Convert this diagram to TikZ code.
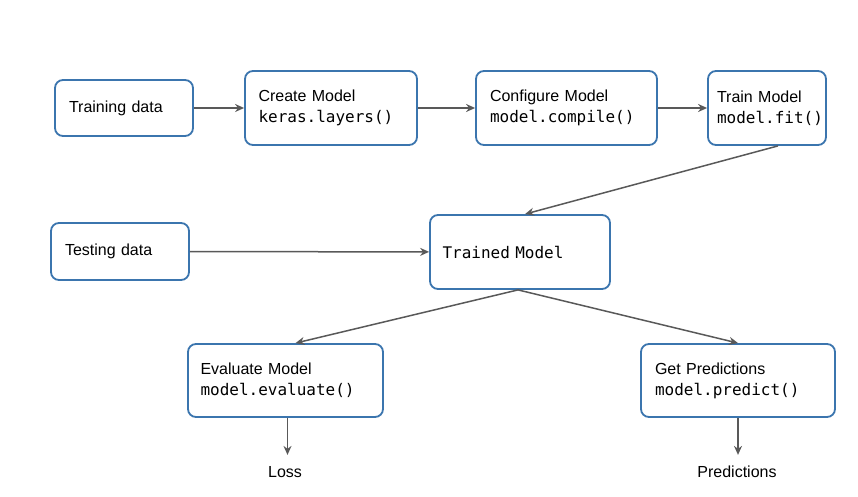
\documentclass[tikz,border=0pt]{standalone}
\usepackage{fontspec}
\setmainfont{Liberation Sans}
\newfontfamily\codefont{DejaVu Sans Mono}
\usetikzlibrary{arrows.meta,positioning}
\definecolor{boxblue}{HTML}{3B75AE}
\definecolor{arrowgray}{HTML}{595959}

\begin{document}
\begin{tikzpicture}[x=1pt,y=-1pt,
    box/.style={draw=boxblue, line width=1.8pt, rounded corners=8pt, fill=white,
        align=left, text width=#1, inner sep=0pt, minimum height=74pt, font=\fontsize{16}{21}\selectfont},
    flow/.style={draw=arrowgray, line width=1.5pt, -{Stealth[length=9pt,width=8pt]}}]
    \useasboundingbox (0,0) rectangle (858,497);

    \node[box=110pt, minimum height=56pt, minimum width=138pt] (train) at (124,108) {Training data};
    \node[box=145pt, minimum width=172pt] (create) at (331,108) {Create Model\\{\codefont keras.layers()}};
    \node[box=153pt, minimum width=181pt] (config) at (566.5,108) {Configure Model\\{\codefont model.compile()}};
    \node[box=100pt, minimum width=118pt] (fit) at (767,108) {Train Model\\{\codefont model.fit()}};
    \node[box=110pt, minimum height=57pt, minimum width=138pt] (test) at (120,251.5) {Testing data};
    \node[box=155pt, minimum width=180pt] (trained) at (520,252) {{\codefont Trained Model}};
    \node[box=170pt, minimum height=73pt, minimum width=195pt] (eval) at (285.5,380.5) {Evaluate Model\\{\codefont model.evaluate()}};
    \node[box=166pt, minimum height=73pt, minimum width=194pt] (pred) at (738,380.5) {Get Predictions\\{\codefont model.predict()}};
    \node[font=\fontsize{16}{19}\selectfont] (loss) at (285,472) {Loss};
    \node[font=\fontsize{16}{19}\selectfont] (preds) at (737,472) {Predictions};

    \draw[flow] (train) -- (create);
    \draw[flow] (create) -- (config);
    \draw[flow] (config) -- (fit);
    \draw[flow] ([xshift=11pt]fit.south) -- ([xshift=5pt]trained.north);
    \draw[flow] (test) -- (trained);
    \draw[flow] ([xshift=-2pt]trained.south) -- ([xshift=10pt]eval.north);
    \draw[flow] ([xshift=-2pt]trained.south) -- (pred.north);
    \draw[flow] ([xshift=2pt]eval.south) -- ++(0,37);
    \draw[flow] (pred.south) -- ++(0,37);
\end{tikzpicture}
\end{document}
